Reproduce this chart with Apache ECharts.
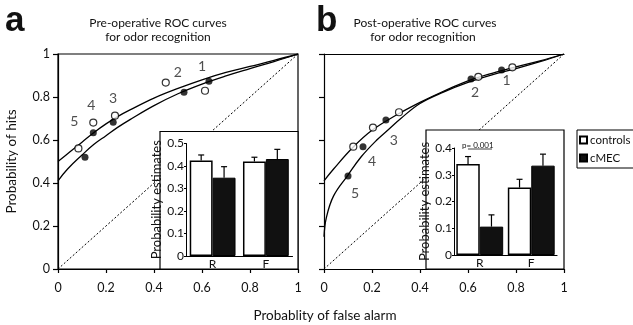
<!DOCTYPE html>
<html>
<head>
<meta charset="utf-8">
<script src="https://cdn.jsdelivr.net/npm/echarts@6/dist/echarts.min.js"></script>
<style>
  html, body { margin: 0; padding: 0; background: #fff; }
  #chart { width: 633px; height: 325px; }
</style>
</head>
<body>
<div id="chart"></div>
<script>
// ROC points, criterion 1..5, [false alarm, hits]
const preCtrlPts = [[0.6125, 0.829], [0.449, 0.867], [0.2375, 0.713], [0.147, 0.681], [0.085, 0.561]];
const preMecPts = [[0.629, 0.873], [0.525, 0.822], [0.23, 0.682], [0.147, 0.634], [0.1125, 0.52]];
const postCtrlPts = [[0.785, 0.938], [0.643, 0.894], [0.3125, 0.729], [0.204, 0.658], [0.122, 0.569]];
const postMecPts = [[0.74, 0.926], [0.6125, 0.884], [0.258, 0.693], [0.1625, 0.569], [0.1, 0.433]];

// fitted curves
const preCtrlCurve = [[0, 0.5], [0.05, 0.545], [0.1, 0.59], [0.15, 0.635], [0.2, 0.675], [0.25, 0.71], [0.3, 0.74], [0.4, 0.795], [0.5, 0.84], [0.6, 0.88], [0.7, 0.914], [0.8, 0.942], [0.9, 0.97], [1, 1]];
const preMecCurve = [[0, 0.41], [0.04, 0.465], [0.1, 0.53], [0.15, 0.58], [0.2, 0.62], [0.25, 0.66], [0.3, 0.695], [0.4, 0.76], [0.5, 0.815], [0.6, 0.86], [0.7, 0.898], [0.8, 0.932], [0.9, 0.965], [1, 1]];
const postCtrlCurve = [[0, 0.41], [0.04, 0.465], [0.12, 0.565], [0.2, 0.645], [0.3, 0.715], [0.4, 0.775], [0.5, 0.828], [0.6, 0.875], [0.7, 0.91], [0.8, 0.94], [0.9, 0.968], [1, 1]];
const postMecCurve = [[0, 0.15], [0.01, 0.24], [0.04, 0.34], [0.1, 0.437], [0.155, 0.522], [0.22, 0.6], [0.27, 0.65], [0.32, 0.7], [0.4, 0.77], [0.5, 0.824], [0.6, 0.868], [0.7, 0.903], [0.8, 0.932], [0.9, 0.964], [1, 1]];
const chance = [[0, 0], [1, 1]];

const criteria = ['1', '2', '3', '4', '5'];

// inset bars
const barCats = ['R', 'F'];
const preCtrl = [0.425, 0.42];
const preCtrlErr = [0.449, 0.439];
const preMec = [0.348, 0.431];
const preMecErr = [0.397, 0.474];
const postCtrl = [0.34, 0.252];
const postCtrlErr = [0.368, 0.283];
const postMec = [0.106, 0.334];
const postMecErr = [0.15, 0.377];

const FONT = 'Lato, "Open Sans", sans-serif';

// where the criterion numbers sit, relative to a point (px)
const preLabelAnchor = [preMecPts[0], preCtrlPts[1], preCtrlPts[2], preCtrlPts[3], preCtrlPts[4]];
const preLabelOffset = [[-7, -15], [12, -10], [-2, -17], [-2, -17], [-4, -27]];
const postLabelOffset = [[5, 11], [4, 14], [8, 20], [9, 15], [7, 18]];

const chart = echarts.init(document.getElementById('chart'));

const mainX = (gridIndex) => ({
  type: 'value', gridIndex: gridIndex, min: 0, max: 1, interval: 0.2,
  axisLine: { lineStyle: { color: '#000', width: 1.2 } },
  axisTick: { length: 4, lineStyle: { color: '#000', width: 1.2 } },
  axisLabel: { color: '#111', fontSize: 12.5, fontFamily: FONT, margin: 12 },
  splitLine: { show: false }
});
const mainY = (gridIndex, labels) => ({
  type: 'value', gridIndex: gridIndex, min: 0, max: 1, interval: 0.2,
  axisLine: { show: true, lineStyle: { color: '#000', width: 1.2 } },
  axisTick: { show: true, length: 5, lineStyle: { color: '#000', width: 1.2 } },
  axisLabel: { show: labels, color: '#111', fontSize: 12.5, fontFamily: FONT, margin: 8 },
  splitLine: { show: false }
});
const insetX = (gridIndex) => ({
  type: 'category', gridIndex: gridIndex, data: barCats, z: 10,
  axisLine: { lineStyle: { color: '#000', width: 1.2 } },
  axisTick: { show: false },
  axisLabel: { color: '#111', fontSize: 12, fontFamily: FONT, margin: 2 }
});
const insetY = (gridIndex, max, gap) => ({
  type: 'value', gridIndex: gridIndex, min: 0, max: max, interval: 0.1, z: 10,
  name: 'Probability estimates', nameLocation: 'middle', nameGap: gap,
  nameTextStyle: { color: '#111', fontSize: 13, fontFamily: FONT },
  axisLine: { show: true, lineStyle: { color: '#000', width: 1 } },
  axisTick: { show: true, length: 2, lineStyle: { color: '#000' } },
  axisLabel: { color: '#111', fontSize: 12, fontFamily: FONT, margin: 2 },
  splitLine: { show: false }
});

function errorBars(shift) {
  return function (params, api) {
    const base = api.coord([api.value(0), api.value(1)]);
    const top = api.coord([api.value(0), api.value(2)]);
    const band = api.size([1, 0])[0];
    const x = base[0] + shift * band;
    const st = { stroke: '#000', lineWidth: 1.2 };
    return {
      type: 'group',
      children: [
        { type: 'line', shape: { x1: x, y1: base[1], x2: x, y2: top[1] }, style: st },
        { type: 'line', shape: { x1: x - 3, y1: top[1], x2: x + 3, y2: top[1] }, style: st }
      ]
    };
  };
}

const curve = (data, axis) => ({
  type: 'line', data: data, xAxisIndex: axis, yAxisIndex: axis,
  smooth: 0.4, showSymbol: false, silent: true, z: 2,
  lineStyle: { color: '#000', width: 1.3 }
});
const dots = (data, axis, open) => ({
  type: 'scatter', data: data, xAxisIndex: axis, yAxisIndex: axis,
  symbol: 'circle', symbolSize: 7, z: 3,
  itemStyle: open ? { color: '#fff', borderColor: '#000', borderWidth: 1.2 } : { color: '#000' }
});
const numbers = (anchors, offsets, axis) => ({
  type: 'scatter', xAxisIndex: axis, yAxisIndex: axis, symbolSize: 0, z: 4,
  data: anchors.map((p, i) => ({ value: p, name: criteria[i], label: { offset: offsets[i] } })),
  label: { show: true, position: 'inside', formatter: '{b}', color: '#222', fontSize: 14, fontFamily: FONT }
});
const bars = (name, data, axis, gap, open) => ({
  name: name, type: 'bar', data: data, xAxisIndex: axis, yAxisIndex: axis, z: 10,
  barGap: '0%', barCategoryGap: gap,
  itemStyle: open ? { color: '#fff', borderColor: '#000', borderWidth: 1.5 } : { color: '#111', borderColor: '#000', borderWidth: 1 }
});
const errs = (vals, tops, axis, shift) => ({
  type: 'custom', xAxisIndex: axis, yAxisIndex: axis, z: 11,
  data: barCats.map((c, i) => [i, vals[i], tops[i]]),
  encode: { x: 0, y: 1 },
  renderItem: errorBars(shift)
});

const option = {
  animation: false,
  grid: [
    { left: 58, top: 54, width: 240, height: 215, show: true, borderColor: '#000', borderWidth: 1.2 },
    { left: 324, top: 54, width: 240, height: 215 },
    { left: 186, top: 143.5, width: 106.5, height: 112.5, z: 10 },
    { left: 454, top: 148, width: 103, height: 107, z: 10 }
  ],
  xAxis: [
    mainX(0), mainX(1), insetX(2), insetX(3),
    { type: 'value', gridIndex: 1, position: 'top', min: 0, max: 1,
      axisLine: { lineStyle: { color: '#000', width: 1.2 } },
      axisTick: { show: false }, axisLabel: { show: false }, splitLine: { show: false } }
  ],
  yAxis: [
    Object.assign(mainY(0, true), {
      name: 'Probability of hits', nameLocation: 'middle', nameGap: 39,
      nameTextStyle: { color: '#111', fontSize: 13.5, fontFamily: FONT }
    }),
    mainY(1, false),
    insetY(2, 0.5, 9),
    insetY(3, 0.4, 10)
  ],
  legend: {
    data: ['controls', 'cMEC'], orient: 'vertical', left: 577, top: 130,
    icon: 'rect', itemWidth: 7, itemHeight: 7, itemGap: 6,
    padding: [4, 40, 4, 2], borderColor: '#000', borderWidth: 1,
    textStyle: { color: '#111', fontSize: 11.5, fontFamily: FONT, padding: [0, 0, 0, -2] }
  },
  graphic: [
    { type: 'rect', z: 5, shape: { x: 160, y: 131.5, width: 138, height: 137.5 },
      style: { fill: '#fff', stroke: '#000', lineWidth: 1.2 } },
    { type: 'rect', z: 5, shape: { x: 426, y: 130, width: 138, height: 139 },
      style: { fill: '#fff', stroke: '#000', lineWidth: 1.2 } },
    { type: 'text', z: 12, style: { text: 'a', x: 5, y: 21, textVerticalAlign: 'middle', font: 'bold 35px "Liberation Sans", Arial, sans-serif', fill: '#111' } },
    { type: 'text', z: 12, style: { text: 'b', x: 316, y: 21, textVerticalAlign: 'middle', font: 'bold 35px "Liberation Sans", Arial, sans-serif', fill: '#111' } },
    { type: 'text', z: 12, style: { text: 'Pre-operative ROC curves', x: 158, y: 23, textAlign: 'center', textVerticalAlign: 'middle', fontSize: 12, fontFamily: FONT, fill: '#111' } },
    { type: 'text', z: 12, style: { text: 'for odor recognition', x: 158, y: 37.5, textAlign: 'center', textVerticalAlign: 'middle', fontSize: 12, fontFamily: FONT, fill: '#111' } },
    { type: 'text', z: 12, style: { text: 'Post-operative ROC curves', x: 425, y: 23, textAlign: 'center', textVerticalAlign: 'middle', fontSize: 12, fontFamily: FONT, fill: '#111' } },
    { type: 'text', z: 12, style: { text: 'for odor recognition', x: 423, y: 37.5, textAlign: 'center', textVerticalAlign: 'middle', fontSize: 12, fontFamily: FONT, fill: '#111' } },
    { type: 'text', z: 12, style: { text: 'Probablity of false alarm', x: 325, y: 316, textAlign: 'center', textVerticalAlign: 'middle', fontSize: 13.5, fontFamily: FONT, fill: '#111' } },
    { type: 'text', z: 12, style: { text: 'p= 0.001', x: 462, y: 145, textVerticalAlign: 'middle', fontSize: 8, fontFamily: FONT, fill: '#111' } },
    { type: 'line', z: 12, shape: { x1: 468, y1: 149, x2: 492, y2: 149 }, style: { stroke: '#111', lineWidth: 0.8 } }
  ],
  series: [
    Object.assign(curve(chance, 0), { lineStyle: { color: '#000', width: 1, type: [2, 2] }, z: 1 }),
    Object.assign(curve(chance, 1), { lineStyle: { color: '#000', width: 1, type: [2, 2] }, z: 1 }),
    curve(preCtrlCurve, 0),
    curve(preMecCurve, 0),
    curve(postCtrlCurve, 1),
    curve(postMecCurve, 1),
    dots(preCtrlPts, 0, true),
    dots(preMecPts, 0, false),
    dots(postCtrlPts, 1, true),
    dots(postMecPts, 1, false),
    numbers(preLabelAnchor, preLabelOffset, 0),
    numbers(postMecPts, postLabelOffset, 1),
    bars('controls', preCtrl, 2, '14%', true),
    bars('cMEC', preMec, 2, '14%', false),
    bars('controls', postCtrl, 3, '9%', true),
    bars('cMEC', postMec, 3, '9%', false),
    errs(preCtrl, preCtrlErr, 2, -0.215),
    errs(preMec, preMecErr, 2, 0.215),
    errs(postCtrl, postCtrlErr, 3, -0.2275),
    errs(postMec, postMecErr, 3, 0.2275)
  ]
};

chart.setOption(option);
</script>
</body>
</html>
